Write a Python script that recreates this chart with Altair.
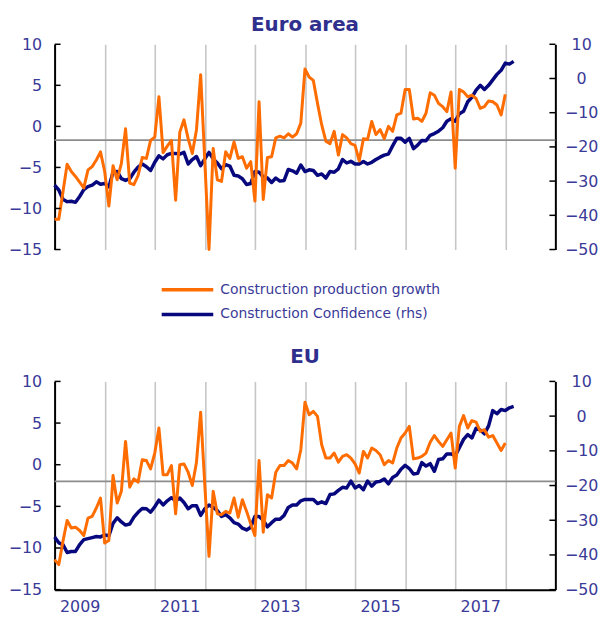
import altair as alt
import pandas as pd

START_YEAR = 2009
YEAR_TICKS = list(range(2009, 2019))
LEFT_TICKS = [-15, -10, -5, 0, 5, 10]
RIGHT_TICKS = [-50, -40, -30, -20, -10, 0, 10]

PROD_LABEL = "Construction production growth"
CONF_LABEL = "Construction Confidence (rhs)"
SERIES = [PROD_LABEL, CONF_LABEL]

# Euro area, monthly from Jan 2009 (left axis, %)
EA_PRODUCTION = [
    -11.3, -11.3, -8.0, -4.6, -5.5, -6.1, -6.8, -7.5, -5.3, -4.9, -4.1, -3.1,
    -5.5, -9.7, -4.8, -6.5, -4.5, -0.3, -6.9, -7.1, -6.0, -3.8, -3.9, -1.7,
    -1.3, 3.6, -3.2, -2.4, -1.7, -9.0, -0.7, 0.8, -1.5, -3.3, -0.4, 6.3,
    -4.3, -15.0, -2.7, -6.5, -6.7, -3.1, -3.9, -1.9, -3.9, -3.7, -5.1, -4.3,
    -9.1, 3.0, -8.9, -3.8, -3.7, -1.4, -1.2, -1.4, -0.9, -1.3, -0.9, 0.4,
    7.0, 6.0, 5.6, 2.8, 0.2, -1.8, -2.1, -0.6, -3.5, -1.0, -1.4, -2.1,
    -2.3, -4.2, -1.5, -1.6, 0.6, -1.0, -0.4, -1.5, 0.0, -0.6, 1.4, 1.6,
    4.5, 4.5, 0.9, 1.0, 0.6, 1.6, 4.1, 3.8, 2.8, 2.4, 1.8, 4.2,
    -5.1, 4.5, 4.2, 3.6, 3.8, 3.4, 2.2, 2.4, 3.1, 3.0, 2.6, 1.4,
    3.9,
]
# Euro area confidence (right axis, balance)
EA_CONFIDENCE = [
    -31.2, -32.6, -35.3, -36.0, -35.9, -36.2, -34.5, -32.5, -31.6, -31.2, -30.2, -30.9,
    -30.7, -31.7, -27.4, -27.2, -29.3, -29.8, -29.3, -27.4, -25.9, -25.0, -25.8, -26.9,
    -24.5, -22.6, -23.5, -22.3, -21.9, -21.9, -22.1, -21.6, -25.0, -23.7, -22.8, -25.5,
    -23.5, -21.6, -23.5, -24.7, -26.4, -25.2, -25.6, -28.3, -28.5, -29.3, -31.0, -30.7,
    -27.2, -27.4, -28.8, -29.1, -30.4, -29.1, -30.0, -29.8, -26.6, -27.0, -27.7, -25.3,
    -27.2, -26.7, -26.9, -28.3, -27.9, -29.1, -27.2, -27.4, -26.4, -23.7, -24.7, -24.2,
    -25.0, -25.0, -24.3, -25.0, -24.5, -23.7, -23.0, -22.4, -22.1, -19.7, -17.5, -17.5,
    -18.6, -17.5, -20.5, -19.5, -18.1, -18.2, -16.6, -16.1, -15.4, -14.4, -12.5, -11.8,
    -12.5, -10.3, -9.6, -6.8, -5.5, -3.4, -2.0, -3.2, -2.0, -0.4, 1.2, 2.4,
    4.5, 4.2, 5.0,
]
EA_CONF_AVERAGE = -18.0

# EU
EU_PRODUCTION = [
    -11.4, -12.0, -9.2, -6.7, -7.6, -7.5, -7.9, -8.5, -6.4, -6.2, -5.2, -4.0,
    -9.4, -9.1, -1.3, -4.6, -3.2, 2.8, -2.7, -1.7, -2.1, 0.6, 0.5, -0.5,
    1.4, 4.4, -1.2, -1.2, -0.1, -5.9, 0.0, 0.1, -0.9, -2.5, 0.3, 6.3,
    -2.5, -11.0, -3.2, -5.9, -6.0, -5.6, -5.8, -4.0, -6.3, -4.2, -5.6, -7.1,
    -8.5, 0.5, -8.1, -3.6, -4.0, -0.9, -0.1, -0.1, 0.5, 0.2, -0.5, 1.8,
    7.5, 6.0, 6.4, 5.8, 2.4, 0.8, 0.8, 1.4, 0.3, 1.0, 1.2, 0.8,
    0.1, -1.0, 1.6, 0.8, 2.0, 1.7, 1.2, 0.0, 0.5, 0.2, 2.0, 3.2,
    3.8, 4.6, 0.7, 0.8, 1.0, 1.4, 2.7, 3.5, 2.8, 2.2, 3.0, 3.8,
    -0.4, 4.6, 5.9, 4.4, 5.3, 5.1, 4.0, 4.2, 3.3, 3.5, 2.6, 1.7,
    2.6,
]
EU_CONFIDENCE = [
    -34.8, -36.5, -37.0, -39.3, -39.0, -39.0, -37.0, -35.6, -35.3, -35.0, -34.7, -34.8,
    -34.2, -34.5, -30.9, -29.3, -30.5, -31.4, -31.1, -29.1, -27.7, -26.6, -26.7, -27.7,
    -26.1, -24.2, -25.6, -24.4, -23.5, -24.4, -23.6, -24.9, -26.7, -25.8, -25.8, -28.6,
    -26.7, -25.6, -26.3, -27.2, -28.9, -28.4, -29.3, -30.7, -31.1, -32.3, -32.8, -32.0,
    -28.9, -28.9, -30.0, -31.9, -30.7, -29.7, -29.7, -28.6, -26.3, -25.6, -25.6, -24.4,
    -24.0, -24.0, -24.0, -25.2, -24.7, -25.2, -22.6, -22.4, -21.4, -20.5, -20.7, -18.7,
    -20.7, -20.0, -21.2, -18.7, -20.2, -19.0, -18.8, -18.1, -19.5, -17.7, -17.0, -15.3,
    -14.2, -15.1, -16.7, -16.5, -13.4, -14.4, -13.7, -15.9, -12.5, -12.3, -10.9, -10.9,
    -11.4, -9.1, -6.7, -5.3, -6.3, -3.5, -4.0, -5.1, -2.8, 1.6, 0.7, 1.9,
    1.6, 2.4, 2.8,
]
EU_CONF_AVERAGE = -18.8

ORANGE = "#ff6c00"
NAVY = "#08087e"
TEXT = "#3a3a98"
TITLE_COLOR = "#2f2f8e"
FONT = "DejaVu Sans"

W = 505


def monthly(values, series):
    return pd.DataFrame({
        "t": [START_YEAR + i / 12 for i in range(len(values))],
        "value": values,
        "series": series,
    })


x_scale = alt.Scale(domain=[2009, 2019], nice=False, zero=False)
left_scale = alt.Scale(domain=[-15, 10], nice=False, zero=False)
right_scale = alt.Scale(domain=[-50, 10], nice=False, zero=False)
color_scale = alt.Scale(domain=SERIES, range=[ORANGE, NAVY])

x_axis_top = alt.Axis(values=YEAR_TICKS, grid=True, gridColor="#c6c6c6", gridWidth=1.6,
                      labels=False, ticks=False, domain=False, title=None)
x_axis_bottom = alt.Axis(values=YEAR_TICKS, grid=True, gridColor="#c6c6c6", gridWidth=1.6,
                         labels=True, ticks=False, domain=True, domainColor="black",
                         domainWidth=2, title=None,
                         labelExpr="datum.value % 2 == 1 ? toString(datum.value) : ''",
                         labelOffset=W / 20, labelPadding=9, labelFontSize=16,
                         labelFont=FONT, labelColor=TEXT, labelFlush=False,
                         labelOverlap=False)

left_axis = alt.Axis(orient="left", values=LEFT_TICKS, grid=False, ticks=False,
                     domainColor="black", domainWidth=2, labelFontSize=16,
                     labelFont=FONT, labelColor=TEXT, labelPadding=13, title=None)
right_axis = alt.Axis(orient="right", values=RIGHT_TICKS, grid=False, ticks=False,
                      domainColor="black", domainWidth=2, labelFontSize=16,
                      labelFont=FONT, labelColor=TEXT, labelPadding=26,
                      labelAlign="center", title=None)


def panel(prod, conf, avg, title, bottom, height, title_offset):
    x_axis = x_axis_bottom if bottom else x_axis_top
    x = alt.X("t:Q", scale=x_scale, axis=x_axis, title=None)
    color = alt.Color("series:N", scale=color_scale, legend=None)

    y_right = alt.Y("v:Q", scale=right_scale, axis=right_axis, title=None)
    y_left = alt.Y("v:Q", scale=left_scale, axis=left_axis, title=None)

    avg_rule = alt.Chart(pd.DataFrame({"v": [avg]})).mark_rule(
        color="#8c8c8c", strokeWidth=1.8).encode(y=y_right)
    conf_line = alt.Chart(monthly(conf, CONF_LABEL)).transform_calculate(
        v="datum.value").mark_line(strokeWidth=3.5, strokeJoin="round").encode(
        x=x, y=y_right, color=color)
    right_ticks = alt.Chart(pd.DataFrame({"v": RIGHT_TICKS})).mark_rule(
        color="black", strokeWidth=1.5).encode(
        y=y_right, x=alt.value(W - 6), x2=alt.value(W))

    prod_line = alt.Chart(monthly(prod, PROD_LABEL)).transform_calculate(
        v="datum.value").mark_line(strokeWidth=3, strokeJoin="round").encode(
        x=x, y=y_left, color=color)
    left_ticks = alt.Chart(pd.DataFrame({"v": LEFT_TICKS})).mark_rule(
        color="black", strokeWidth=1.5).encode(
        y=y_left, x=alt.value(0), x2=alt.value(6))

    right_group = alt.layer(avg_rule, conf_line, right_ticks)
    left_group = alt.layer(prod_line, left_ticks)
    return alt.layer(right_group, left_group).resolve_scale(y="independent").properties(
        width=W, height=height,
        title=alt.TitleParams(title, fontSize=20, font=FONT, fontWeight="bold",
                              color=TITLE_COLOR, anchor="middle", offset=title_offset))


# legend drawn as its own small view between the two panels
legend_df = pd.DataFrame({"series": SERIES})
legend_y = alt.Y("series:N", sort=SERIES, axis=None,
                 scale=alt.Scale(type="point", padding=0.5))
legend_symbols = alt.Chart(legend_df).mark_rule(strokeWidth=3.5).encode(
    y=legend_y, x=alt.value(108), x2=alt.value(160),
    color=alt.Color("series:N", scale=color_scale, legend=None))
legend_labels = alt.Chart(legend_df).mark_text(
    align="left", baseline="middle", font=FONT, fontSize=14, color=TEXT).encode(
    y=legend_y, x=alt.value(167), text="series:N")
legend_view = alt.layer(legend_symbols, legend_labels).properties(width=W, height=50)

top = panel(EA_PRODUCTION, EA_CONFIDENCE, EA_CONF_AVERAGE, "Euro area", False, 207, 1)
bottom = panel(EU_PRODUCTION, EU_CONFIDENCE, EU_CONF_AVERAGE, "EU", True, 210, 7)

chart = alt.vconcat(top, legend_view, bottom, spacing=20).resolve_scale(
    x="independent", y="independent", color="shared"
).configure_view(stroke=None).properties(
    padding={"left": 0, "top": 5, "right": 0, "bottom": 0})

chart.save("out.html", embed_options={"renderer": "svg", "actions": False})
